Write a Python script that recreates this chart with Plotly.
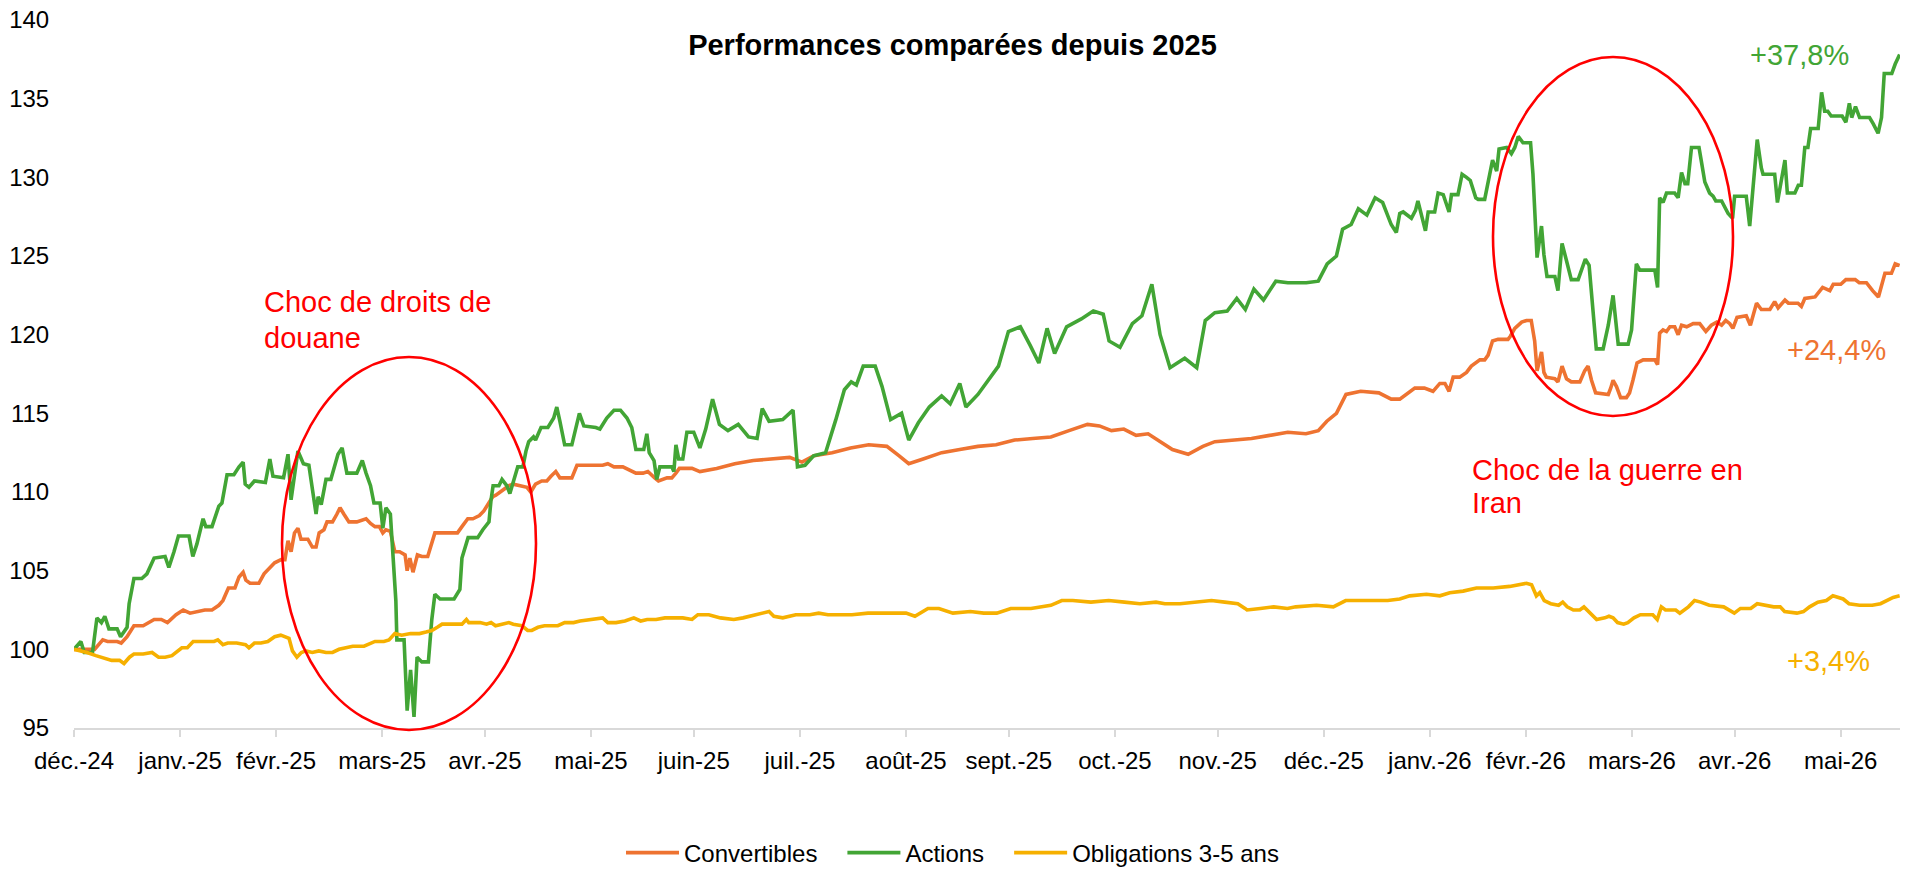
import numpy as np
import pandas as pd
import plotly.graph_objects as go

# ---------------- data (days after 31 Dec 2024, index level, base 100) ----------------
BASE_DATE = "2024-12-31"

conv_days = [0, 6, 8.4, 9.8, 12.6, 13.8, 15.5, 17.5, 20.2, 23.4, 25.5, 27.3, 29.8, 31.9, 33.9, 35.6, 38.2, 40.3,
             42.3, 43.5, 45.1, 47.0, 48.2, 49.4, 50.2, 51.4, 54.0, 55.5, 57.2, 58.6, 60.5, 61.6, 62.5, 63.4, 64.4,
             65.4, 66.3, 68.3, 69.6, 70.7, 71.6, 73.0, 73.9, 75.5, 76.8, 77.7, 78.8, 80.3, 82.6, 83.9, 85.3, 86.6,
             87.9, 89.2, 90.2, 91.1, 92.4, 93.7, 95.1, 96.7, 97.3, 98.1, 99.0, 100.3, 101.6, 103.3, 104.2, 105.4,
             106.9, 108.7, 112.0, 113.3, 115.0, 116.5, 118.4, 119.7, 121.2, 122.3, 123.2, 124.9, 127.0, 128.3,
             130.5, 132.3, 133.4, 134.8, 136.6, 138.1, 139.3, 140.7, 141.9, 143.9, 145.4, 146.9, 148.5, 150.4,
             152.4, 154.4, 155.9, 157.7, 160.3, 162.2, 164.1, 166.2, 167.6, 169.6, 170.7, 173.2, 174.6, 175.8,
             176.8, 180.5, 182.8, 187.7, 193, 198.4, 203.7, 209, 212.6, 216.1, 221.4, 226.8, 232.1, 237.4, 241,
             243.8, 248, 253.4, 258.7, 264, 269.3, 274.7, 280, 285.3, 290.6, 296, 299.5, 303, 306.6, 310.2, 313.7,
             317.2, 320.8, 325.4, 329.7, 333.2, 338.5, 343.9, 349.2, 354.5, 359.8, 363.4, 365.9, 368.7, 371.5,
             375.8, 381.1, 384.7, 387.2, 389.2, 391.6, 394.4, 396.9, 398.9, 400.4, 401.6, 402.8, 404.7, 406.7,
             408.1, 410.6, 412.0, 413.0, 414.3, 415.9, 418.8, 419.5, 420.8, 422.8, 424.2, 425.6, 426.6, 427.3,
             428.6, 429.3, 430.0, 432.5, 433.4, 434.6, 435.9, 437.3, 439.8, 441.2, 442.2, 443.2, 444.4, 448.1,
             448.8, 449.5, 450.5, 451.7, 453.4, 454.3, 455.3, 456.5, 458.3, 461.7, 462.5, 463.1, 464.1, 465.1,
             466.1, 467.5, 468.5, 469.5, 471.0, 472.9, 474.8, 476.6, 478.2, 479.8, 481.2, 482.4, 483.6, 484.5,
             485.7, 488.4, 489.6, 491.4, 492.8, 495.3, 496.7, 497.7, 499.7, 500.7, 503.5, 504.5, 505.5, 508.5,
             510.7, 512.8, 513.8, 516.0, 517.5, 520.2, 521.4, 523.5, 525.3, 527.0, 528.9, 530.8, 531.9, 533.2]
conv_vals = [100.0, 100.0, 100.6, 100.5, 100.5, 100.4, 100.8, 101.5, 101.5, 101.9, 101.9, 101.7, 102.2, 102.5,
             102.3, 102.4, 102.5, 102.5, 102.8, 103.1, 103.9, 103.9, 104.6, 104.9, 104.4, 104.2, 104.2, 104.8,
             105.2, 105.5, 105.7, 105.7, 106.9, 106.2, 107.4, 107.7, 107.0, 107.0, 106.5, 106.5, 107.4, 107.6,
             108.1, 108.1, 108.6, 109.0, 108.6, 108.1, 108.1, 108.2, 108.3, 108.0, 107.8, 107.8, 107.4, 107.6,
             107.5, 106.2, 106.2, 106.0, 105.0, 105.8, 104.9, 106.0, 105.9, 105.9, 106.5, 107.4, 107.4, 107.4,
             107.4, 107.8, 108.3, 108.3, 108.5, 108.8, 109.3, 109.7, 109.8, 110.1, 110.4, 110.5, 110.4, 110.3,
             110.0, 110.5, 110.7, 110.7, 111.0, 111.3, 110.9, 110.9, 110.9, 111.7, 111.7, 111.7, 111.7, 111.7,
             111.8, 111.6, 111.6, 111.4, 111.2, 111.2, 111.3, 110.9, 110.7, 110.9, 110.9, 111.2, 111.5, 111.5,
             111.3, 111.5, 111.8, 112.0, 112.1, 112.2, 111.9, 112.3, 112.5, 112.8, 113.0, 112.9, 112.3, 111.8,
             112.1, 112.5, 112.7, 112.9, 113.0, 113.3, 113.4, 113.5, 113.9, 114.3, 114.2, 113.9, 114.0, 113.6,
             113.7, 113.2, 112.7, 112.4, 112.9, 113.2, 113.3, 113.4, 113.6, 113.8, 113.7, 113.9, 114.5, 115.0,
             116.2, 116.4, 116.3, 115.9, 115.9, 116.2, 116.6, 116.6, 116.4, 116.9, 116.9, 116.4, 117.3, 117.3,
             117.6, 118.0, 118.4, 118.4, 118.7, 119.6, 119.7, 119.7, 119.9, 120.4, 120.8, 120.9, 120.9, 119.6,
             117.7, 118.9, 117.6, 117.3, 117.2, 117.0, 118.0, 117.2, 117.0, 117.0, 117.7, 118.0, 117.1, 116.3,
             116.2, 116.6, 117.1, 116.7, 116.0, 116.0, 116.3, 117.1, 118.2, 118.4, 118.4, 118.1, 120.1, 120.3,
             120.2, 120.5, 120.5, 120.0, 120.6, 120.5, 120.7, 120.7, 120.2, 120.6, 120.8, 120.6, 120.9, 120.7,
             120.4, 121.1, 121.2, 120.6, 122.0, 121.6, 121.6, 122.1, 121.7, 122.2, 122.0, 122.0, 121.8, 122.3,
             122.4, 123.0, 122.8, 123.2, 123.2, 123.5, 123.5, 123.3, 123.3, 122.8, 122.4, 123.9, 123.9, 124.5,
             124.4]

act_days = [0, 2, 3, 5.4, 6.7, 8, 9, 10.2, 12.6, 13.6, 15.5, 16.1, 17.5, 19.8, 21.3, 23.4, 26.6, 27.7, 29.2, 30.5,
            33.6, 34.7, 35.9, 37.7, 38.5, 40.3, 42.3, 43.2, 44.7, 46.7, 48.2, 49.4, 50.0, 51.1, 52.7, 55.9, 57.2,
            58.1, 61.2, 62.5, 63.4, 65.4, 67.0, 68.6, 70.7, 71.3, 72.2, 73.6, 75.0, 77.1, 78.3, 79.7, 82.6, 84.2,
            85.3, 86.6, 87.6, 89.4, 90.2, 91.1, 92.4, 93.4, 94.0, 94.3, 96.4, 97.3, 98.3, 99.3, 100.2, 101.6, 103.5,
            104.5, 105.4, 106.9, 111.0, 112.7, 113.3, 115.1, 117.9, 119.4, 121.2, 121.8, 122.4, 124.1, 125.0, 126.4,
            127.3, 129.6, 131.1, 132.0, 132.8, 134.2, 134.8, 136.4, 138.4, 140.1, 141.0, 141.9, 143.3, 145.4, 146.6,
            147.6, 148.9, 152.4, 153.6, 155.6, 157.7, 159.6, 161.5, 162.9, 164.1, 166.4, 167.3, 168.0, 169.4, 170.2,
            171.1, 174.6, 175.2, 175.8, 176.6, 177.8, 179.0, 181.0, 182.8, 184.5, 186.5, 188.5, 191, 194, 197,
            199.5, 201, 203, 207, 210, 211.3, 213.5, 216, 219.5, 222.5, 225, 227, 228.5, 230.5, 234, 236, 238.5,
            241.7, 243.8, 246.6, 249.8, 253.4, 255.9, 258.7, 260.5, 264, 267.6, 270, 272.9, 276.4, 279.3, 281.8,
            284.2, 286.4, 289.9, 294.2, 297.7, 300.6, 302.3, 305.5, 309.1, 311.9, 314.8, 317.2, 320.1, 324.4, 327.9,
            330.4, 333.2, 336.8, 339.6, 342.1, 344.6, 347.4, 351, 354.5, 359.9, 363.4, 366, 368.7, 370.5, 373,
            375.1, 377.6, 380, 382.2, 384.7, 386.2, 387.2, 388.2, 390.6, 391.8, 392.5, 394.7, 395.5, 397.4, 398.4,
            399.9, 401.6, 402.3, 404.2, 405.4, 406.7, 407.8, 409.4, 410.1, 412.0, 413.0, 414.3, 415.5, 416.2, 418.4,
            419.8, 420.8, 421.8, 423.2, 425.4, 426.1, 426.6, 427.3, 428.6, 429.3, 430.2, 432.5, 433.4, 434.6, 435.9,
            437.3, 439.3, 440.3, 441.4, 442.5, 444.6, 446.6, 448.1, 449.5, 451.0, 453.9, 454.9, 456.3, 457.3, 461.7,
            462.5, 463.1, 464.1, 465.1, 467.5, 468.5, 469.5, 470.5, 471.3, 472.4, 474.6, 475.3, 476.3, 477.7, 478.7,
            479.5, 481.2, 483.1, 484.4, 485.0, 488.4, 489.4, 491.6, 492.8, 493.3, 496.7, 497.5, 499.7, 500.4, 502.6,
            503.6, 504.5, 505.5, 506.4, 507.2, 509.4, 510.4, 511.3, 512.2, 513.2, 516.4, 517.5, 518.5, 519.2, 520.3,
            521.5, 524.4, 525.5, 526.9, 527.9, 528.7, 530.9, 531.9, 533.2]
act_vals = [100.0, 100.5, 99.8, 99.8, 102.0, 101.7, 102.1, 101.3, 101.3, 100.8, 101.4, 102.9, 104.5, 104.5, 104.8,
            105.8, 105.9, 105.2, 106.2, 107.2, 107.2, 105.9, 106.7, 108.3, 107.8, 107.8, 109.1, 109.3, 111.1, 111.1,
            111.6, 111.9, 110.5, 110.3, 110.7, 110.6, 112.1, 111.0, 110.9, 112.4, 109.5, 112.6, 111.8, 111.7, 108.6,
            109.7, 109.2, 110.8, 110.8, 112.4, 112.8, 111.2, 111.2, 112.0, 111.2, 110.4, 109.3, 109.3, 107.7, 109.0,
            108.6, 105.2, 103.1, 100.6, 100.6, 96.1, 98.7, 95.7, 99.5, 99.2, 99.2, 101.9, 103.5, 103.2, 103.2, 103.8,
            105.8, 107.1, 107.1, 107.6, 108.1, 109.5, 110.4, 110.4, 110.8, 110.4, 109.9, 111.6, 111.6, 112.6, 113.2,
            113.5, 113.3, 114.1, 114.1, 114.7, 115.4, 114.5, 113.0, 113.0, 114.1, 115.0, 114.2, 114.1, 114.0, 114.7,
            115.2, 115.2, 114.7, 114.1, 112.7, 112.7, 113.7, 112.5, 112.0, 110.8, 111.6, 111.6, 111.3, 113.0, 112.1,
            112.1, 113.8, 113.8, 112.8, 114.0, 115.9, 114.3, 113.9, 114.3, 113.5, 113.4, 115.3, 114.5, 114.6, 115.2,
            111.6, 111.7, 112.3, 112.5, 114.6, 116.5, 117.0, 116.8, 118.0, 118.0, 116.7, 114.6, 115.0, 113.3, 114.4,
            115.4, 116.1, 115.6, 116.9, 115.4, 116.2, 117.3, 118.0, 120.2, 120.5, 119.3, 118.2, 120.4, 118.8, 120.5,
            121.0, 121.5, 121.3, 119.6, 119.2, 120.7, 121.2, 123.2, 120.0, 117.9, 118.5, 117.9, 120.9, 121.4, 121.5,
            122.3, 121.6, 122.9, 122.2, 123.4, 123.3, 123.3, 123.4, 124.5, 125.0, 126.7, 127.0, 128.0, 127.6, 128.7,
            128.4, 127.0, 126.5, 127.7, 127.8, 127.4, 127.9, 128.5, 126.6, 127.8, 127.8, 129.0, 128.9, 127.8, 128.9,
            128.9, 130.2, 130.0, 129.8, 128.7, 128.6, 128.6, 129.6, 131.1, 130.4, 131.8, 131.9, 131.5, 131.9, 132.6,
            132.2, 132.2, 130.2, 128.1, 124.9, 126.9, 125.1, 123.7, 123.7, 122.8, 125.8, 124.7, 123.5, 123.5, 124.1,
            124.8, 124.4, 119.1, 119.1, 120.6, 122.5, 119.4, 119.4, 120.3, 124.5, 124.1, 124.1, 123.0, 128.7, 128.4,
            129.0, 129.0, 128.7, 130.3, 129.6, 129.6, 131.9, 131.9, 131.0, 129.7, 129.0, 128.8, 128.5, 128.5, 127.7,
            127.4, 128.8, 128.8, 126.9, 132.4, 130.6, 130.2, 130.2, 128.4, 131.1, 129.0, 129.0, 129.5, 129.5, 131.9,
            131.9, 133.1, 133.1, 135.4, 134.2, 134.2, 133.9, 133.9, 133.5, 134.7, 133.8, 134.5, 133.8, 133.8, 133.4,
            132.8, 133.8, 136.6, 136.6, 137.2, 137.8]

obl_days = [0, 3.8, 6.4, 9.1, 11, 13.3, 14.6, 16.2, 17.5, 20.2, 22.8, 24.7, 26.6, 28.6, 31.5, 33.1, 34.8, 36.4, 39,
            40.9, 42, 43.5, 44.9, 47.5, 50.1, 51.1, 52.7, 54.6, 56.6, 58.6, 60.4, 61.8, 62.8, 63.8, 65.1, 66.4, 67.7,
            69.6, 71.5, 73.6, 75.5, 77.4, 79.4, 81.4, 84.7, 86.6, 87.9, 90.5, 92, 93.7, 95.7, 98.3, 100.9, 102.8,
            104.5, 106.1, 107.5, 108.6, 111.3, 113.3, 114.6, 115.3, 118.6, 120.5, 121.8, 123.1, 125, 127, 128.3,
            130.8, 132.5, 133.7, 135.5, 137.4, 140, 141.3, 143.3, 145.9, 147.8, 151.8, 154.4, 155.9, 158.3, 160.9,
            163.5, 165.5, 167.4, 170, 172.6, 175.2, 177.8, 180.5, 182.2, 185.4, 188.8, 192.7, 195.4, 199.1, 203,
            204.4, 207, 210.8, 214.9, 217.5, 220.2, 224.6, 227.2, 231.9, 235.1, 238.3, 243, 245.6, 249.4, 252.6,
            256.7, 261.8, 265.7, 269.5, 273.6, 279.5, 282.7, 285.3, 288.5, 291.7, 297, 302.2, 306.8, 311.3, 316,
            318.6, 323, 328.2, 332.2, 336.1, 339.9, 342, 342.6, 346.5, 350.4, 354.4, 356.8, 362.9, 367.8, 371.4,
            377.6, 383.7, 387.2, 390.1, 395, 398.9, 401.8, 405.7, 409.6, 414.5, 419.3, 422.3, 424.2, 425.7, 427.1,
            428.1, 429.4, 431.3, 433.6, 434.8, 436.1, 437.9, 439.8, 441, 442.7, 444.7, 447.1, 448.3, 449.5, 450.8,
            452.6, 453.8, 455.6, 457.5, 461.1, 462.4, 463.6, 464.8, 467.8, 469, 471.5, 473.3, 475.1, 477.6, 481.8,
            484.9, 486.7, 489.7, 491.6, 494.7, 496.4, 498.3, 499.6, 503.2, 505.1, 506.9, 509.3, 511.8, 513.7, 516.7,
            518.4, 521.5, 525.2, 527.6, 529.4, 531.3, 533.2]
obl_vals = [100.0, 99.8, 99.6, 99.4, 99.3, 99.3, 99.1, 99.5, 99.7, 99.7, 99.8, 99.5, 99.5, 99.6, 100.1, 100.1,
            100.5, 100.5, 100.5, 100.5, 100.6, 100.3, 100.4, 100.4, 100.3, 100.1, 100.4, 100.4, 100.5, 100.8, 100.9,
            100.8, 100.7, 99.9, 99.5, 99.8, 99.9, 99.8, 99.9, 99.8, 99.8, 100.0, 100.1, 100.2, 100.2, 100.4, 100.5,
            100.5, 100.6, 101.0, 100.9, 101.0, 101.0, 101.1, 101.2, 101.4, 101.6, 101.6, 101.6, 101.6, 101.9, 101.7,
            101.7, 101.6, 101.7, 101.5, 101.6, 101.7, 101.6, 101.5, 101.2, 101.2, 101.4, 101.5, 101.5, 101.5, 101.7,
            101.7, 101.8, 101.9, 102.0, 101.7, 101.7, 101.8, 102.0, 101.8, 101.9, 101.9, 102.0, 102.0, 102.0, 101.9,
            102.2, 102.2, 102.0, 101.9, 102.0, 102.2, 102.4, 102.1, 102.0, 102.2, 102.2, 102.3, 102.2, 102.2, 102.2,
            102.3, 102.3, 102.3, 102.3, 102.1, 102.6, 102.6, 102.3, 102.4, 102.3, 102.3, 102.6, 102.6, 102.7, 102.8,
            103.1, 103.1, 103.0, 103.1, 103.0, 102.9, 103.0, 102.9, 102.9, 103.0, 103.1, 103.0, 102.9, 102.6, 102.5,
            102.6, 102.7, 102.6, 102.7, 102.8, 102.7, 103.1, 103.1, 103.1, 103.2, 103.4, 103.5, 103.4, 103.6, 103.7,
            103.9, 103.9, 104.0, 104.1, 104.2, 104.1, 103.4, 103.6, 103.1, 102.9, 102.8, 103.0, 102.7, 102.5, 102.5,
            102.7, 102.3, 101.9, 102.0, 102.1, 102.0, 101.7, 101.6, 101.7, 102.0, 102.2, 102.2, 101.9, 102.7, 102.5,
            102.5, 102.3, 102.7, 103.1, 103.0, 102.8, 102.7, 102.3, 102.6, 102.6, 102.9, 102.8, 102.7, 102.7, 102.4,
            102.3, 102.4, 102.7, 103.0, 103.1, 103.4, 103.2, 102.9, 102.8, 102.8, 102.9, 103.1, 103.3, 103.4]

series_names = ["Convertibles", "Actions", "Obligations 3-5 ans"]
series_colors = ["#EE7331", "#42A535", "#F6B000"]

tick_dates = ["2024-12-31", "2025-01-31", "2025-02-28", "2025-03-31", "2025-04-30", "2025-05-31", "2025-06-30",
              "2025-07-31", "2025-08-31", "2025-09-30", "2025-10-31", "2025-11-30", "2025-12-31", "2026-01-31",
              "2026-02-28", "2026-03-31", "2026-04-30", "2026-05-31"]
tick_labels = ["déc.-24", "janv.-25", "févr.-25", "mars-25", "avr.-25", "mai-25", "juin-25", "juil.-25",
               "août-25", "sept.-25", "oct.-25", "nov.-25", "déc.-25", "janv.-26", "févr.-26", "mars-26",
               "avr.-26", "mai-26"]
y_ticks = [95, 100, 105, 110, 115, 120, 125, 130, 135, 140]

end_labels = ["+24,4%", "+37,8%", "+3,4%"]

# ---------------- figure ----------------
W, H = 1905, 871
L, R, T, B = 74, 5, 20, 143
FONT = "Liberation Sans, Arial, Helvetica, sans-serif"
NBSP = "\u00a0"


def to_dates(days):
    return pd.Timestamp(BASE_DATE) + pd.to_timedelta(np.asarray(days, dtype=float), unit="D")


def px(xp):
    return (xp - L) / (W - L - R)


def py(yp):
    return (H - B - yp) / (H - B - T)


legend_pad = [NBSP * 3, NBSP * 3, ""]

fig = go.Figure()
for name, pad, days, vals, col in zip(series_names, legend_pad, [conv_days, act_days, obl_days],
                                      [conv_vals, act_vals, obl_vals], series_colors):
    fig.add_trace(go.Scatter(x=to_dates(days), y=vals, mode="lines", name=name + pad,
                             line=dict(color=col, width=3.6), hoverinfo="skip"))

x_end = pd.Timestamp(BASE_DATE) + pd.Timedelta(days=533.3)

fig.update_layout(
    width=W, height=H,
    margin=dict(l=L, r=R, t=T, b=B),
    paper_bgcolor="white", plot_bgcolor="white",
    font=dict(family=FONT, size=24, color="#000000"),
    title=dict(text="<b>Performances comparées depuis 2025</b>", x=0.5, xref="container", xanchor="center",
               y=1 - 45 / H, yref="container", yanchor="middle", font=dict(size=29, family=FONT, color="#000")),
    showlegend=True,
    legend=dict(orientation="h", xref="container", x=0.5, xanchor="center", yref="container",
                y=(H - 853) / H, yanchor="middle", font=dict(size=24, family=FONT, color="#000"),
                bgcolor="rgba(0,0,0,0)", itemwidth=53),
    xaxis=dict(type="date", range=[pd.Timestamp(BASE_DATE), x_end], tickmode="array",
               tickvals=pd.to_datetime(tick_dates), ticktext=tick_labels, ticks="outside", ticklen=7,
               tickwidth=2, tickcolor="#D9D9D9", showline=True, linecolor="#D9D9D9", linewidth=2,
               showgrid=False, zeroline=False, tickfont=dict(size=24, family=FONT, color="#000"),
               ticklabelstandoff=3),
    yaxis=dict(range=[95, 140], tickmode="array", tickvals=y_ticks, ticks="outside", ticklen=19,
               tickcolor="rgba(0,0,0,0)", showline=False, showgrid=False, zeroline=False,
               tickfont=dict(size=24, family=FONT, color="#000")),
)

# ellipses highlighting the two shocks
fig.add_shape(type="circle", xref="paper", yref="paper", x0=px(282), x1=px(536), y0=py(730), y1=py(357),
              line=dict(color="#FF0000", width=2.6))
fig.add_shape(type="circle", xref="paper", yref="paper", x0=px(1493), x1=px(1733), y0=py(416), y1=py(57),
              line=dict(color="#FF0000", width=2.6))

red = dict(color="#FF0000", size=29, family=FONT)
for txt, xp, yp in [("Choc de droits de", 262, 302), ("douane", 262, 338),
                    ("Choc de la guerre en", 1470, 470), ("Iran", 1470, 503)]:
    fig.add_annotation(text=txt, xref="paper", yref="paper", x=px(xp), y=py(yp), xanchor="left",
                       yanchor="middle", showarrow=False, font=red)

for txt, col, xp, yp in [(end_labels[1], series_colors[1], 1748, 55),
                         (end_labels[0], series_colors[0], 1785, 350),
                         (end_labels[2], series_colors[2], 1785, 661)]:
    fig.add_annotation(text=txt, xref="paper", yref="paper", x=px(xp), y=py(yp), xanchor="left",
                       yanchor="middle", showarrow=False, font=dict(color=col, size=29, family=FONT))

fig.write_html("out.html", config={"displayModeBar": False},
               post_script="document.body.style.margin='0px';document.body.style.overflow='hidden';")
